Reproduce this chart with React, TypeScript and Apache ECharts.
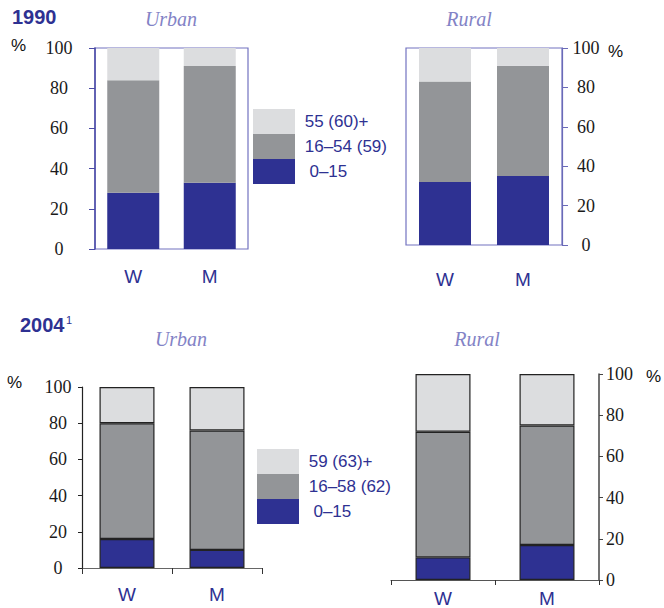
import React, { useEffect, useRef } from "react";
import * as echarts from "echarts";

const categories = ["W", "M"];
const yTicks = { min: 0, max: 100, interval: 20 };

const urban1990Young = [28, 33];
const urban1990Working = [56, 58];
const urban1990Old = [16, 9];

const rural1990Young = [32, 35];
const rural1990Working = [51, 56];
const rural1990Old = [17, 9];

const urban2004Young = [16, 10];
const urban2004Working = [64, 66];
const urban2004Old = [20, 24];

const rural2004Young = [11, 17];
const rural2004Working = [61, 58];
const rural2004Old = [28, 25];

const names1990 = ["0–15", "16–54 (59)", "55 (60)+"];
const names2004 = ["0–15", "16–58 (62)", "59 (63)+"];

const DARK = "#2e3192";
const MID = "#939598";
const LIGHT = "#dcdddf";
const SUB = "#8383c6";
const SANS = "Liberation Sans";
const SERIF = "Liberation Serif, serif";

export default function App() {
  const ref = useRef<HTMLDivElement>(null);

  useEffect(() => {
    if (!ref.current) return;
    const chart = echarts.init(ref.current, undefined, { renderer: "svg" });

    const catLabel = (margin: number) => ({
      margin,
      fontFamily: SANS,
      fontSize: 19,
      color: DARK,
    });
    const valLabel = (margin: number, align: string) => ({
      show: true,
      margin,
      align,
      fontFamily: SERIF,
      fontStyle: "normal",
      fontSize: 18,
      color: "#1a1a1a",
    });

    const xAxis = [
      {
        type: "category", gridIndex: 0, data: categories,
        axisLine: { show: false }, axisTick: { show: false },
        axisLabel: catLabel(18),
      },
      {
        type: "category", gridIndex: 1, data: categories,
        axisLine: { show: false }, axisTick: { show: false },
        axisLabel: catLabel(25),
      },
      {
        type: "category", gridIndex: 2, data: categories,
        axisLine: { show: true, lineStyle: { color: "#666", width: 1.2 } },
        axisTick: { show: true, length: 6, lineStyle: { color: "#333" } },
        axisLabel: catLabel(17),
      },
      {
        type: "category", gridIndex: 3, data: categories,
        axisLine: { show: true, lineStyle: { color: "#555", width: 1.2 } },
        axisTick: { show: true, length: 5, lineStyle: { color: "#333" } },
        axisLabel: catLabel(9),
      },
    ];

    const yAxis = [
      {
        type: "value", gridIndex: 0, position: "left", ...yTicks,
        axisLine: { show: true, lineStyle: { color: "#4a4aa6", width: 1.5 } },
        axisTick: { show: true, length: 6, lineStyle: { color: "#4a4aa6" } },
        splitLine: { show: false },
        axisLabel: valLabel(36, "center"),
      },
      {
        type: "value", gridIndex: 1, position: "right", ...yTicks,
        axisLine: { show: true, lineStyle: { color: "#6a6ab8", width: 1.2 } },
        axisTick: { show: true, length: 6, lineStyle: { color: "#6a6ab8" } },
        splitLine: { show: false },
        axisLabel: valLabel(24, "center"),
      },
      {
        type: "value", gridIndex: 2, position: "left", ...yTicks,
        axisLine: { show: true, lineStyle: { color: "#222", width: 1.2 } },
        axisTick: { show: true, length: 4, lineStyle: { color: "#222" } },
        splitLine: { show: false },
        axisLabel: valLabel(24, "center"),
      },
      {
        type: "value", gridIndex: 3, position: "right", ...yTicks,
        axisLine: { show: true, lineStyle: { color: "#444", width: 1.5 } },
        axisTick: { show: true, length: 4, lineStyle: { color: "#444" } },
        splitLine: { show: false },
        axisLabel: valLabel(7, "left"),
      },
    ];

    const colors = [DARK, MID, LIGHT];
    const panels = [
      { data: [urban1990Young, urban1990Working, urban1990Old], names: names1990, width: 52, border: false },
      { data: [rural1990Young, rural1990Working, rural1990Old], names: names1990, width: 52, border: false },
      { data: [urban2004Young, urban2004Working, urban2004Old], names: names2004, width: 55, border: true },
      { data: [rural2004Young, rural2004Working, rural2004Old], names: names2004, width: 55, border: true },
    ];

    const series: any[] = [];
    panels.forEach((p, gi) => {
      p.data.forEach((vals, si) => {
        series.push({
          type: "bar",
          name: p.names[si],
          xAxisIndex: gi,
          yAxisIndex: gi,
          stack: "s" + gi,
          barWidth: p.width,
          data: vals,
          itemStyle: p.border
            ? { color: colors[si], borderColor: "#222", borderWidth: 1.2 }
            : { color: colors[si], borderWidth: 0 },
          emphasis: { disabled: true },
        });
      });
    });

    const legendBase = {
      orient: "vertical",
      itemWidth: 42,
      itemHeight: 25,
      itemGap: 0,
      padding: 0,
      icon: "rect",
      selectedMode: false,
      itemStyle: { borderWidth: 0 },
      textStyle: { fontFamily: SANS, fontSize: 17, color: DARK },
      formatter: (n: string) => (n === "0–15" ? "  " + n : " " + n),
    };

    const txt = (text: string, x: number, y: number, font: string, fill: string, align = "left") => ({
      type: "text",
      x,
      y,
      style: { text, font, fill, textAlign: align, textVerticalAlign: "middle" },
    });

    const option = {
      animation: false,
      textStyle: { fontFamily: SANS },
      grid: [
        { left: 95, top: 48, width: 153, height: 201, show: true, borderColor: "#7272c0", borderWidth: 1.2 },
        { left: 406, top: 48, width: 156, height: 197, show: true, borderColor: "#7272c0", borderWidth: 1.2 },
        { left: 82, top: 387, width: 180, height: 181 },
        { left: 391, top: 374, width: 208, height: 208 },
      ],
      xAxis,
      yAxis,
      series,
      legend: [
        { ...legendBase, left: 253, top: 109, data: [names1990[2], names1990[1], names1990[0]] },
        { ...legendBase, left: 257, top: 449, data: [names2004[2], names2004[1], names2004[0]] },
      ],
      graphic: [
        txt("1990", 12, 17, `bold 20px ${SANS}`, DARK),
        txt("Urban", 171, 19, `italic 20px ${SERIF}`, SUB, "center"),
        txt("Rural", 469, 19, `italic 20px ${SERIF}`, SUB, "center"),
        txt("%", 11, 45, `17px ${SANS}`, "#111"),
        txt("%", 608, 51, `17px ${SANS}`, "#111"),
        txt("2004", 20, 325, `bold 20px ${SANS}`, DARK),
        txt("1", 66, 320, `11px ${SANS}`, DARK),
        txt("Urban", 181, 339, `italic 20px ${SERIF}`, SUB, "center"),
        txt("Rural", 477, 339, `italic 20px ${SERIF}`, SUB, "center"),
        txt("%", 7, 382, `17px ${SANS}`, "#111"),
        txt("%", 646, 376, `17px ${SANS}`, "#111"),
      ],
    };

    chart.setOption(option as any);
    return () => chart.dispose();
  }, []);

  return (
    <div
      ref={ref}
      style={{ position: "fixed", left: 0, top: 0, width: 664, height: 608, background: "#fff" }}
    />
  );
}
